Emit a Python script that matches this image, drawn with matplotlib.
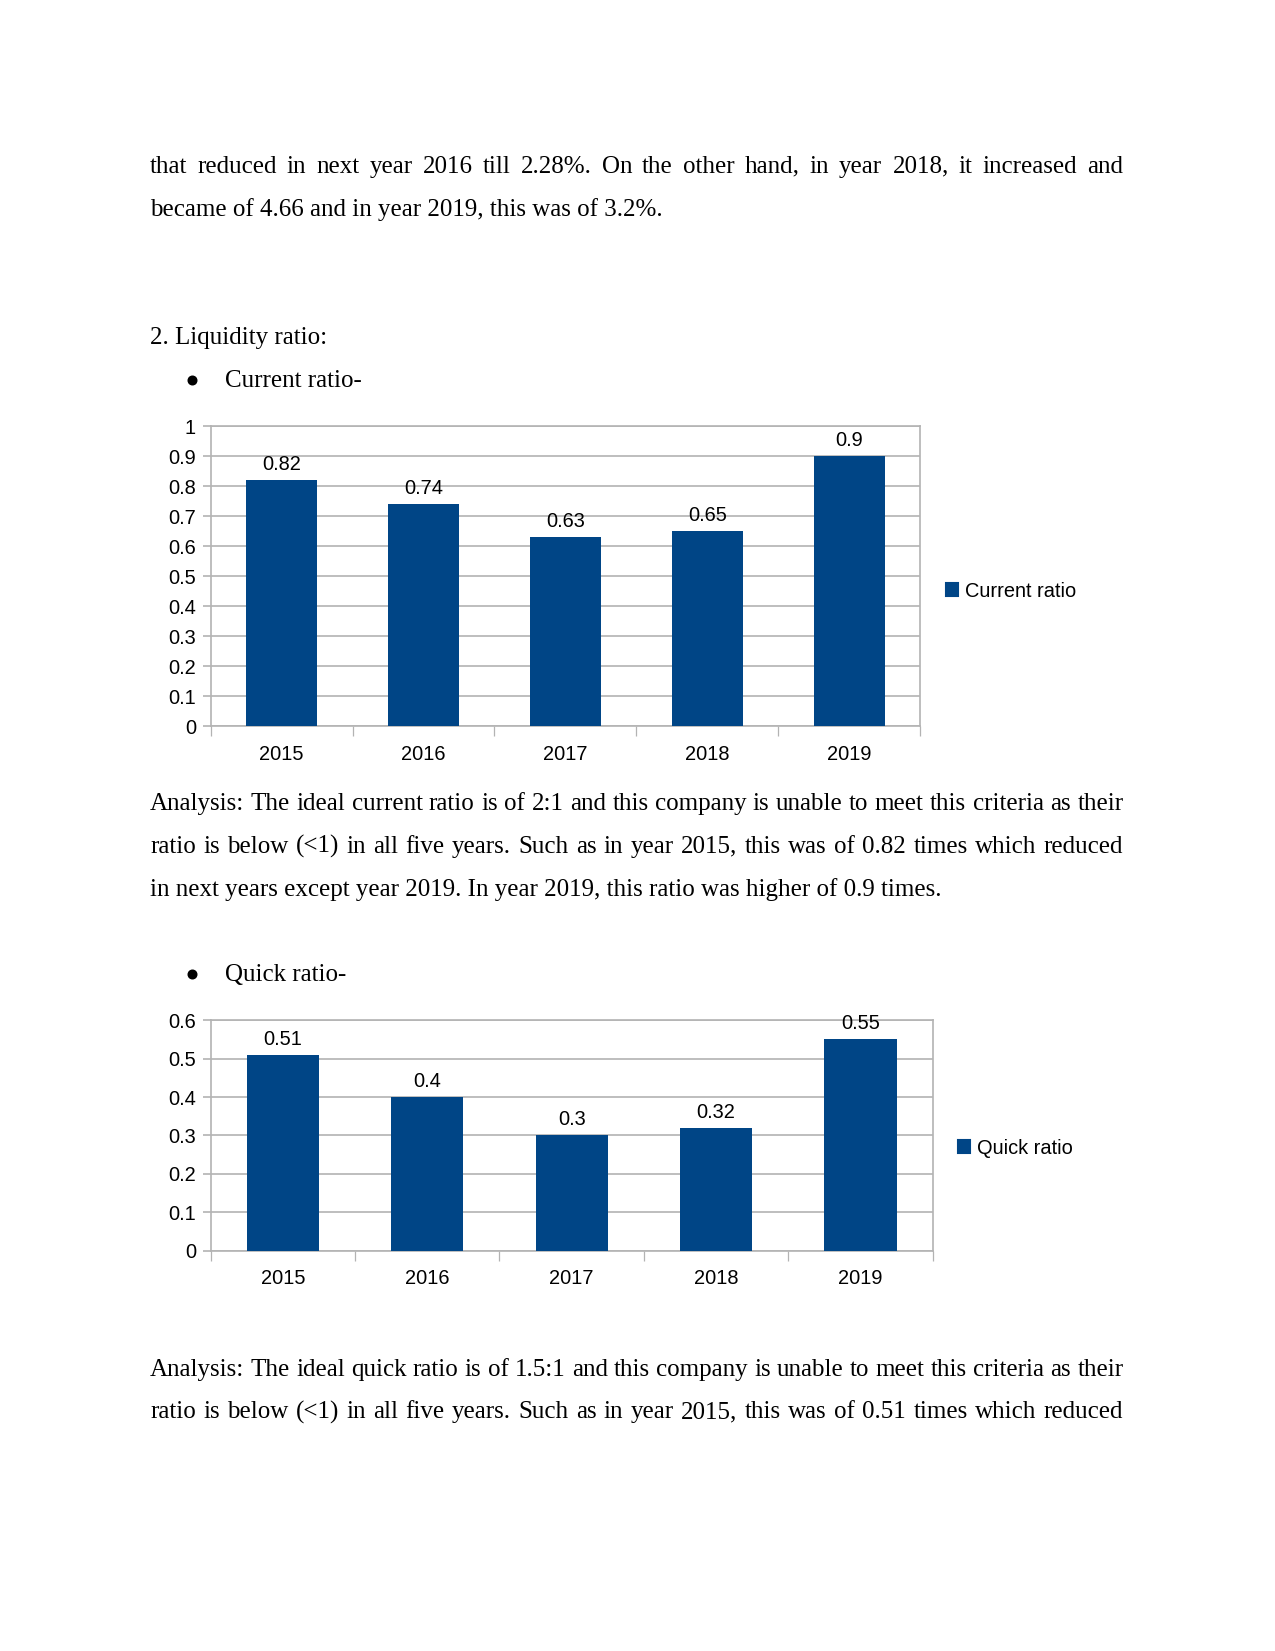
import matplotlib
matplotlib.use("Agg")
import matplotlib.pyplot as plt
from matplotlib.patches import Patch
from matplotlib.lines import Line2D

# page is 1275 x 1651 px at 150 dpi
W, H = 1275, 1651
DPI = 150

years = ["2015", "2016", "2017", "2018", "2019"]
current_ratio = [0.82, 0.74, 0.63, 0.65, 0.9]
quick_ratio = [0.51, 0.4, 0.3, 0.32, 0.55]
current_ticks = [0, 0.1, 0.2, 0.3, 0.4, 0.5, 0.6, 0.7, 0.8, 0.9, 1]
quick_ticks = [0, 0.1, 0.2, 0.3, 0.4, 0.5, 0.6]

body_lines = [
    ("that reduced in next year 2016 till 2.28%. On the other hand, in year 2018, it increased and", True),
    ("became of 4.66 and in year 2019, this was of 3.2%.", False),
    ("2. Liquidity ratio:", False),
]
current_analysis = [
    ("Analysis: The ideal current ratio is of 2:1 and this company is unable to meet this criteria as their", True),
    ("ratio is below (<1) in all five years. Such as in year 2015, this was of 0.82 times which reduced", True),
    ("in next years except year 2019. In year 2019, this ratio was higher of 0.9 times.", False),
]
quick_analysis = [
    ("Analysis: The ideal quick ratio is of 1.5:1 and this company is unable to meet this criteria as their", True),
    ("ratio is below (<1) in all five years. Such as in year 2015, this was of 0.51 times which reduced", True),
]

BAR_COLOR = "#004586"
GRID = "#b3b3b3"
SERIF = "Liberation Serif"
SANS = "Liberation Sans"
CHART_FS = 9.6
X0, X1 = 150.0, 1123.4

fig = plt.figure(figsize=(W / DPI, H / DPI), dpi=DPI)
renderer = fig.canvas.get_renderer()


def fy(y):
    return 1 - y / H


def put_line(y, text, justify, size=12):
    if not justify:
        fig.text(X0 / W, fy(y), text, family=SERIF, fontsize=size, va="baseline", ha="left")
        return
    words = text.split()
    objs = [fig.text(0, fy(y), w, family=SERIF, fontsize=size, va="baseline", ha="left") for w in words]
    widths = [t.get_window_extent(renderer).width for t in objs]
    gap = (X1 - X0 - sum(widths)) / (len(words) - 1)
    x = X0
    for t, w in zip(objs, widths):
        t.set_x(x / W)
        x += w + gap


def bullet(y, text):
    # round bullet sits a bit above the baseline
    fig.add_artist(Line2D([191.5 / W], [fy(y - 7.5)], marker="o", markersize=3.8,
                          color="black", linestyle="none", transform=fig.transFigure))
    fig.text(225.3 / W, fy(y), text, family=SERIF, fontsize=12, va="baseline", ha="left")


def bar_chart(rect, values, ticks, label, legend_xy):
    ax = fig.add_axes(rect)
    x = list(range(len(years)))
    bars = ax.bar(x, values, width=0.5, color=BAR_COLOR, zorder=3)
    ax.bar_label(bars, labels=[f"{v:g}" for v in values], padding=3,
                 fontsize=CHART_FS, family=SANS, color="black")
    ax.set_xlim(-0.5, len(years) - 0.5)
    ax.set_ylim(ticks[0], ticks[-1])
    ax.set_yticks(ticks)
    ax.set_yticklabels([f"{t:g}" for t in ticks], family=SANS, fontsize=CHART_FS)
    ax.set_xticks(x)
    ax.set_xticklabels(years, family=SANS, fontsize=CHART_FS)
    ax.set_xticks([i - 0.5 for i in range(len(years) + 1)], minor=True)
    ax.tick_params(axis="x", which="major", length=0, pad=9)
    ax.tick_params(axis="x", which="minor", length=5, color=GRID, direction="out")
    ax.tick_params(axis="y", length=4, color=GRID, pad=3)
    ax.grid(axis="y", color=GRID, linewidth=0.8, zorder=0)
    for s in ax.spines.values():
        s.set_color(GRID)
        s.set_linewidth(0.8)
    fig.legend(handles=[Patch(color=BAR_COLOR, label=label)], loc="center left",
               bbox_to_anchor=(legend_xy[0] / W, fy(legend_xy[1])), frameon=False,
               borderpad=0, borderaxespad=0, handlelength=0.6, handleheight=0.6,
               handletextpad=0.35, prop={"family": SANS, "size": CHART_FS})
    return ax


# text above charts
put_line(172.7, *body_lines[0])
put_line(215.8, *body_lines[1])
put_line(344.3, *body_lines[2])
bullet(387.4, "Current ratio-")

bar_chart([210.6 / W, fy(726.4), (920.1 - 210.6) / W, (726.4 - 426.4) / H],
          current_ratio, current_ticks, "Current ratio", (946, 591))

put_line(809.6, *current_analysis[0])
put_line(852.8, *current_analysis[1])
put_line(896.0, *current_analysis[2])
bullet(981.3, "Quick ratio-")

bar_chart([210.6 / W, fy(1250.7), (932.8 - 210.6) / W, (1250.7 - 1020.2) / H],
          quick_ratio, quick_ticks, "Quick ratio", (958, 1148))

put_line(1376.1, *quick_analysis[0])
put_line(1418.2, *quick_analysis[1])

fig.savefig("out.png", dpi=DPI)
